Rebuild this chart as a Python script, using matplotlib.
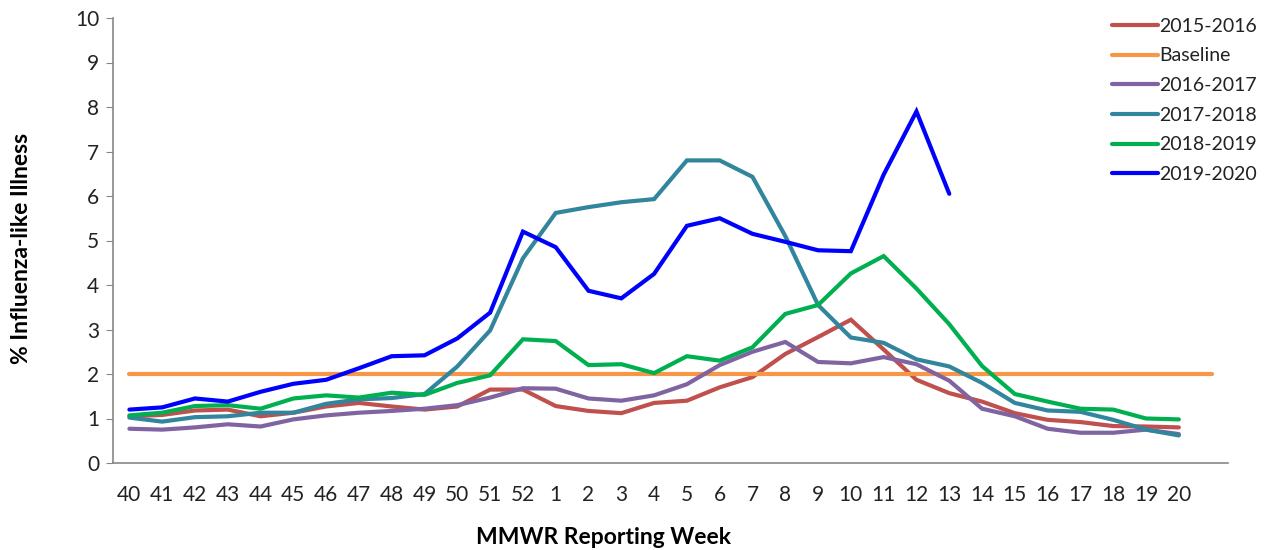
import matplotlib
matplotlib.use("Agg")
import matplotlib.pyplot as plt

weeks = ["40","41","42","43","44","45","46","47","48","49","50","51","52",
         "1","2","3","4","5","6","7","8","9","10","11","12","13","14","15",
         "16","17","18","19","20",""]

s2015 = [1.05,1.08,1.18,1.20,1.05,1.13,1.27,1.35,1.27,1.20,1.27,1.65,1.65,
         1.28,1.17,1.12,1.35,1.40,1.70,1.93,2.45,2.83,3.22,2.55,1.87,1.57,
         1.38,1.12,0.97,0.92,0.83,0.82,0.80]
baseline = [2.0]*34
s2016 = [0.77,0.75,0.80,0.87,0.82,0.98,1.07,1.13,1.17,1.22,1.30,1.47,1.68,
         1.67,1.45,1.40,1.52,1.77,2.20,2.50,2.72,2.27,2.24,2.38,2.22,1.85,
         1.22,1.05,0.77,0.68,0.68,0.75,0.65]
s2017 = [1.02,0.93,1.03,1.05,1.13,1.13,1.33,1.43,1.46,1.55,2.17,2.98,4.60,
         5.62,5.75,5.86,5.93,6.80,6.80,6.43,5.10,3.55,2.82,2.70,2.33,2.17,
         1.80,1.35,1.18,1.15,0.97,0.75,0.62]
s2018 = [1.07,1.13,1.28,1.30,1.22,1.45,1.52,1.47,1.58,1.53,1.80,1.97,2.78,
         2.74,2.20,2.22,2.02,2.40,2.30,2.60,3.35,3.55,4.26,4.65,3.92,3.12,
         2.18,1.55,1.38,1.22,1.20,1.00,0.98]
s2019 = [1.20,1.25,1.45,1.38,1.60,1.78,1.87,2.13,2.40,2.42,2.80,3.38,5.20,
         4.85,3.87,3.70,4.25,5.33,5.50,5.15,4.97,4.78,4.76,6.48,7.90,6.05]

series = [
    ("2015-2016", s2015, "#C0504D"),
    ("Baseline", baseline, "#F79646"),
    ("2016-2017", s2016, "#8064A2"),
    ("2017-2018", s2017, "#31859C"),
    ("2018-2019", s2018, "#00B050"),
    ("2019-2020", s2019, "#0000FF"),
]

plt.rcParams['font.family'] = ['Lato', 'DejaVu Sans']

fig = plt.figure(figsize=(12.64, 5.5), dpi=100)
ax = fig.add_axes([113/1264, 87/550, (1228-113)/1264, (463-18)/550])

for name, vals, col in series:
    ax.plot(range(len(vals)), vals, color=col, lw=3.0, label=name,
            solid_capstyle='round', solid_joinstyle='miter')

ax.set_xlim(-0.5, len(weeks) - 0.5)
ax.set_ylim(0, 10)
ax.set_xticks(range(len(weeks)))
ax.set_xticklabels(weeks, fontsize=15, color="#222222")
ax.set_yticks(range(0, 11))
ax.tick_params(axis='y', labelsize=15, length=5, direction='out', color="#888888", labelcolor="#222222", pad=5)
ax.tick_params(axis='x', length=0, pad=16)
for sp in ("top", "right"):
    ax.spines[sp].set_visible(False)
for sp in ("left", "bottom"):
    ax.spines[sp].set_color("#888888")
    ax.spines[sp].set_linewidth(1.2)

ax.set_xlabel("MMWR Reporting Week", fontsize=16.5, fontweight='bold', va='center')
ax.xaxis.set_label_coords((603-113)/1115, (463-538)/445)
ax.set_ylabel("% Influenza-like Illness", fontsize=16.5, fontweight='bold', va='center')
ax.yaxis.set_label_coords((22-113)/1115, (463-248)/445)

leg = fig.legend(loc='upper left', bbox_to_anchor=(1104/1264, 1 - 10/550),
                 frameon=False, fontsize=14, handlelength=2.4, handletextpad=0.05,
                 labelspacing=0.65, borderaxespad=0)
for t in leg.get_texts():
    t.set_color("#222222")

fig.savefig("out.png", dpi=100)
